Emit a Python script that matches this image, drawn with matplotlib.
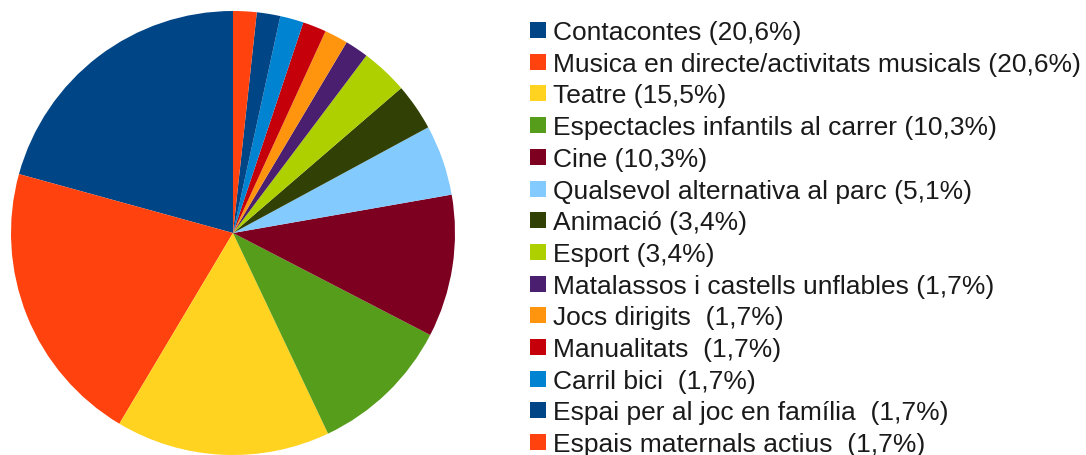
import matplotlib
matplotlib.use("Agg")
import matplotlib.pyplot as plt
from matplotlib.patches import Rectangle

labels = [
    "Contacontes (20,6%)",
    "Musica en directe/activitats musicals (20,6%)",
    "Teatre (15,5%)",
    "Espectacles infantils al carrer (10,3%)",
    "Cine (10,3%)",
    "Qualsevol alternativa al parc (5,1%)",
    "Animació (3,4%)",
    "Esport (3,4%)",
    "Matalassos i castells unflables (1,7%)",
    "Jocs dirigits  (1,7%)",
    "Manualitats  (1,7%)",
    "Carril bici  (1,7%)",
    "Espai per al joc en família  (1,7%)",
    "Espais maternals actius  (1,7%)",
]
values = [20.6, 20.6, 15.5, 10.3, 10.3, 5.1, 3.4, 3.4, 1.7, 1.7, 1.7, 1.7, 1.7, 1.7]
colors = ["#004586", "#ff420e", "#ffd320", "#579d1c", "#7e0021", "#83caff",
          "#314004", "#aecf00", "#4b1f6f", "#ff950e", "#c5000b", "#0084d1",
          "#004586", "#ff420e"]

W, H = 1086, 456
fig = plt.figure(figsize=(W / 100, H / 100), dpi=100)

# pie axes: center (233,234) radius 222 px
cx, cy, r = 233, 234, 222
ax = fig.add_axes([(cx - r) / W, (H - cy - r) / H, 2 * r / W, 2 * r / H])
ax.pie(values, colors=colors, startangle=90, counterclock=True,
       wedgeprops=dict(linewidth=0))
ax.set_xlim(-1, 1)
ax.set_ylim(-1, 1)
ax.set_aspect("equal")
ax.axis("off")

# legend
sq = 16
x0 = 530
y_top0 = 23
step = 31.7
for i, (lab, col) in enumerate(zip(labels, colors)):
    yt = y_top0 + i * step
    fig.patches.append(Rectangle((x0 / W, (H - yt - sq) / H), sq / W, sq / H,
                                 transform=fig.transFigure, facecolor=col,
                                 edgecolor="none"))
    fig.text(553 / W, (H - (yt + 17)) / H, lab, fontsize=19,
             family=["Liberation Sans", "DejaVu Sans"], va="baseline",
             ha="left", color="#1a1a1a")

fig.savefig("out.png", dpi=100)
